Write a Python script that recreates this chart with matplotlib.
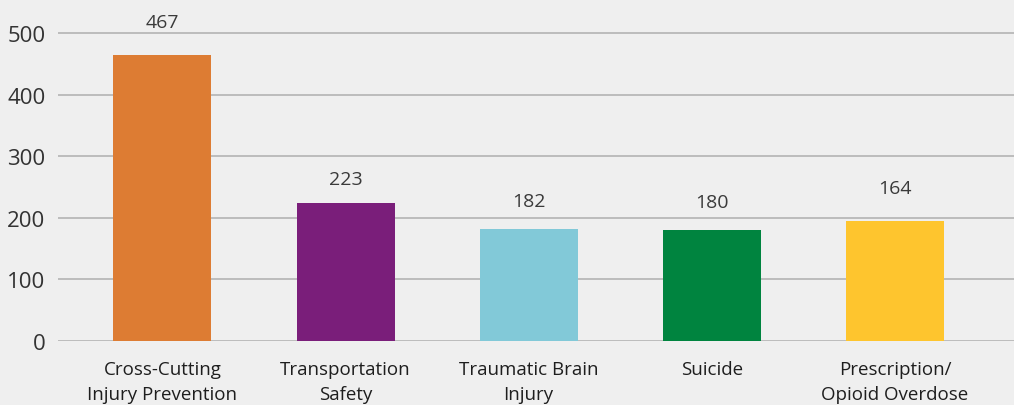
import matplotlib
matplotlib.use("Agg")
import matplotlib.pyplot as plt

categories = ["Cross-Cutting\nInjury Prevention", "Transportation\nSafety",
              "Traumatic Brain\nInjury", "Suicide", "Prescription/\nOpioid Overdose"]
# bar heights as drawn in the picture
heights = [464, 224, 182, 180, 195]
# numbers printed above the bars
value_labels = ["467", "223", "182", "180", "164"]
colors = ["#dd7c33", "#7a1e7a", "#82c9d8", "#00843f", "#fec52e"]

# label offsets above bar tops (points)
offsets = [24, 17, 20, 20, 24]

plt.rcParams['font.family'] = ['Open Sans', 'DejaVu Sans']
bg = "#efefef"

fig = plt.figure(figsize=(10.14, 4.06), dpi=100, facecolor=bg)
ax = fig.add_axes([58 / 1014, 64 / 406, (1014 - 58) / 1014, 342 / 406])
ax.set_facecolor(bg)

x = range(len(categories))
ax.bar(x, heights, width=0.535, color=colors, zorder=3)

for i, (h, lab) in enumerate(zip(heights, value_labels)):
    ax.annotate(lab, (i, h), xytext=(0, offsets[i]), textcoords="offset points",
                ha="center", va="center", fontsize=14, color="#3a3a3a")

ax.set_xlim(-0.57, 4.65)
ax.set_ylim(0, 555)
ax.set_yticks(range(0, 501, 100))
ax.yaxis.grid(True, color="#b3b3b3", linewidth=1.2, zorder=0)
ax.set_xticks(list(x))
ax.set_xticklabels(categories, fontsize=13.5, color="#1e1e1e", linespacing=1.5)
ax.tick_params(axis="x", length=0, pad=14)
ax.tick_params(axis="y", length=0, pad=9, labelsize=16, labelcolor="#333333")
for s in ax.spines.values():
    s.set_visible(False)

fig.savefig("out.png", dpi=100, facecolor=bg)
